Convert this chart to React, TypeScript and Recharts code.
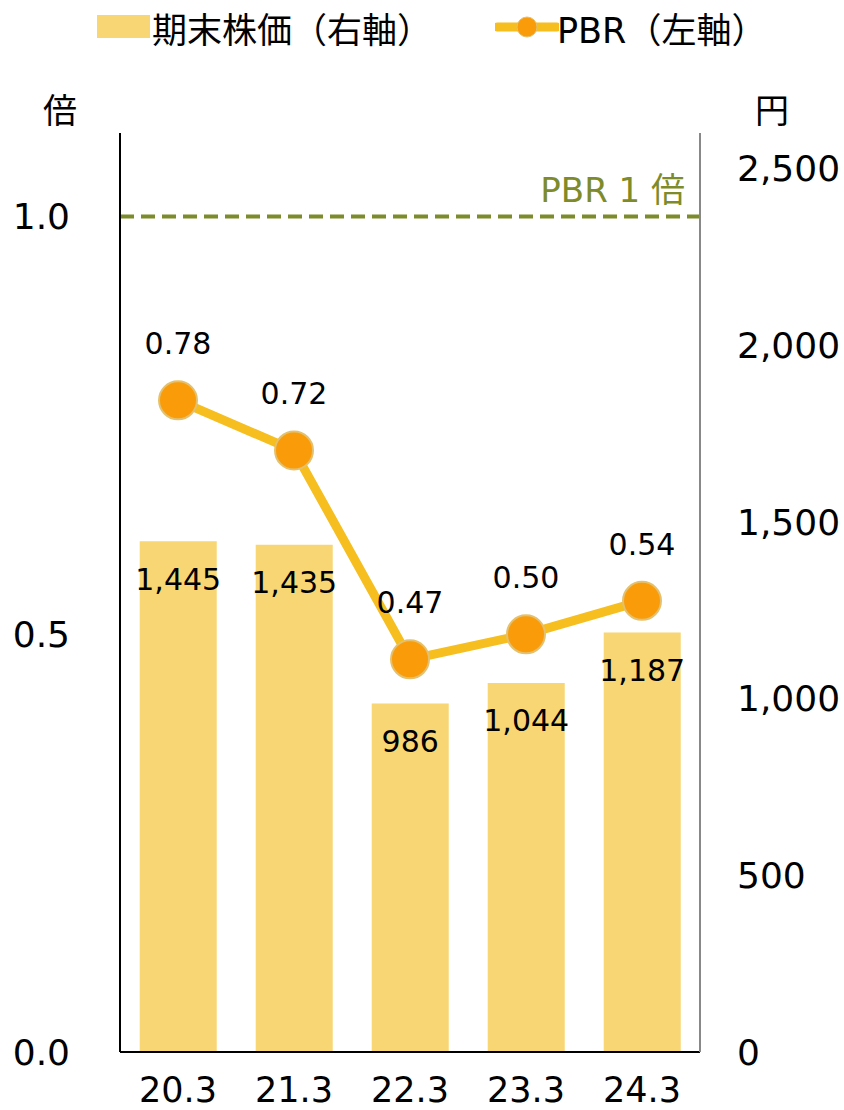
import React from 'react'
import {
  ComposedChart,
  Bar,
  Line,
  XAxis,
  YAxis,
  ReferenceLine,
  LabelList,
  Label,
} from 'recharts'

const CATEGORIES = ['20.3', '21.3', '22.3', '23.3', '24.3']
const PRICE = [1445, 1435, 986, 1044, 1187]
const PBR = [0.78, 0.72, 0.47, 0.5, 0.54]
const LEFT_TICKS = [0, 0.5, 1.0]
const RIGHT_TICKS = [0, 500, 1000, 1500, 2000, 2500]

const FONT = '"DejaVu Sans", "Noto Sans CJK JP", sans-serif'
const BAR_COLOR = '#F8D673'
const LINE_COLOR = '#F6BE1E'
const DOT_COLOR = '#FA9B0A'
const OLIVE = '#7E8B2A'

const data = CATEGORIES.map((c, i) => ({ name: c, price: PRICE[i], pbr: PBR[i] }))

function Legend() {
  return (
    <div
      style={{
        position: 'absolute',
        top: 0,
        left: 0,
        width: 844,
        height: 56,
        fontFamily: FONT,
        fontSize: 35,
        color: '#000',
      }}
    >
      <div style={{ position: 'absolute', left: 97, top: 15, width: 53, height: 23, background: BAR_COLOR }} />
      <span style={{ position: 'absolute', left: 152, top: 2, whiteSpace: 'nowrap' }}>期末株価（右軸）</span>
      <svg style={{ position: 'absolute', left: 495, top: 12 }} width={64} height={30}>
        <line x1={2} y1={15} x2={62} y2={15} stroke={LINE_COLOR} strokeWidth={9} strokeLinecap="round" />
        <circle cx={32} cy={15} r={10} fill={DOT_COLOR} stroke="#E3C16F" strokeWidth={1} />
      </svg>
      <span style={{ position: 'absolute', left: 557, top: 2, whiteSpace: 'nowrap' }}>PBR（左軸）</span>
    </div>
  )
}

export default function App() {
  return (
    <div style={{ position: 'absolute', left: 0, top: 0, width: 844, height: 1110, background: '#fff' }}>
      <ComposedChart
        width={844}
        height={1110}
        data={data}
        margin={{ top: 133, right: 0, bottom: 0, left: 0 }}
        barCategoryGap="17%"
      >
        <XAxis
          dataKey="name"
          height={58}
          axisLine={{ stroke: '#000', strokeWidth: 2 }}
          tickLine={false}
          tickSize={0}
          tickMargin={25}
          tick={{ fontSize: 35, fill: '#000', fontFamily: FONT }}
        />
        <YAxis
          yAxisId="left"
          orientation="left"
          width={120}
          domain={[0, 1.1]}
          ticks={LEFT_TICKS}
          tickFormatter={(v: number) => v.toFixed(1)}
          axisLine={{ stroke: '#000', strokeWidth: 2 }}
          tickLine={false}
          tickSize={0}
          tickMargin={50}
          tick={{ fontSize: 36, fill: '#000', fontFamily: FONT }}
        >
          <Label value="倍" position="top" offset={10} style={{ fontSize: 34, fill: '#000', fontFamily: FONT }} />
        </YAxis>
        <YAxis
          yAxisId="right"
          orientation="right"
          width={144}
          domain={[0, 2600]}
          ticks={RIGHT_TICKS}
          tickFormatter={(v: number) => v.toLocaleString('en-US')}
          axisLine={{ stroke: '#888', strokeWidth: 2 }}
          tickLine={false}
          tickSize={0}
          tickMargin={37}
          tick={{ fontSize: 36, fill: '#000', fontFamily: FONT, textAnchor: 'start' }}
        >
          <Label value="円" position="top" offset={10} style={{ fontSize: 34, fill: '#000', fontFamily: FONT }} />
        </YAxis>
        <Bar yAxisId="right" dataKey="price" fill={BAR_COLOR} isAnimationActive={false}>
          <LabelList
            dataKey="price"
            position="insideTop"
            offset={27}
            formatter={(v: number) => v.toLocaleString('en-US')}
            style={{ fontSize: 30, fill: '#000', fontFamily: FONT }}
          />
        </Bar>
        <ReferenceLine
          yAxisId="left"
          y={1.0}
          stroke={OLIVE}
          strokeWidth={4}
          strokeDasharray="14 7"
        >
          <Label
            value="PBR 1 倍"
            position="insideBottomRight"
            offset={15}
            style={{ fontSize: 34, fill: OLIVE, fontFamily: FONT }}
          />
        </ReferenceLine>
        <Line
          yAxisId="left"
          dataKey="pbr"
          stroke={LINE_COLOR}
          strokeWidth={9}
          dot={{ r: 19, fill: DOT_COLOR, stroke: '#E3C16F', strokeWidth: 2 }}
          activeDot={false}
          isAnimationActive={false}
        >
          <LabelList
            dataKey="pbr"
            position="top"
            offset={46}
            formatter={(v: number) => v.toFixed(2)}
            style={{ fontSize: 30, fill: '#000', fontFamily: FONT }}
          />
        </Line>
      </ComposedChart>
      <Legend />
    </div>
  )
}
